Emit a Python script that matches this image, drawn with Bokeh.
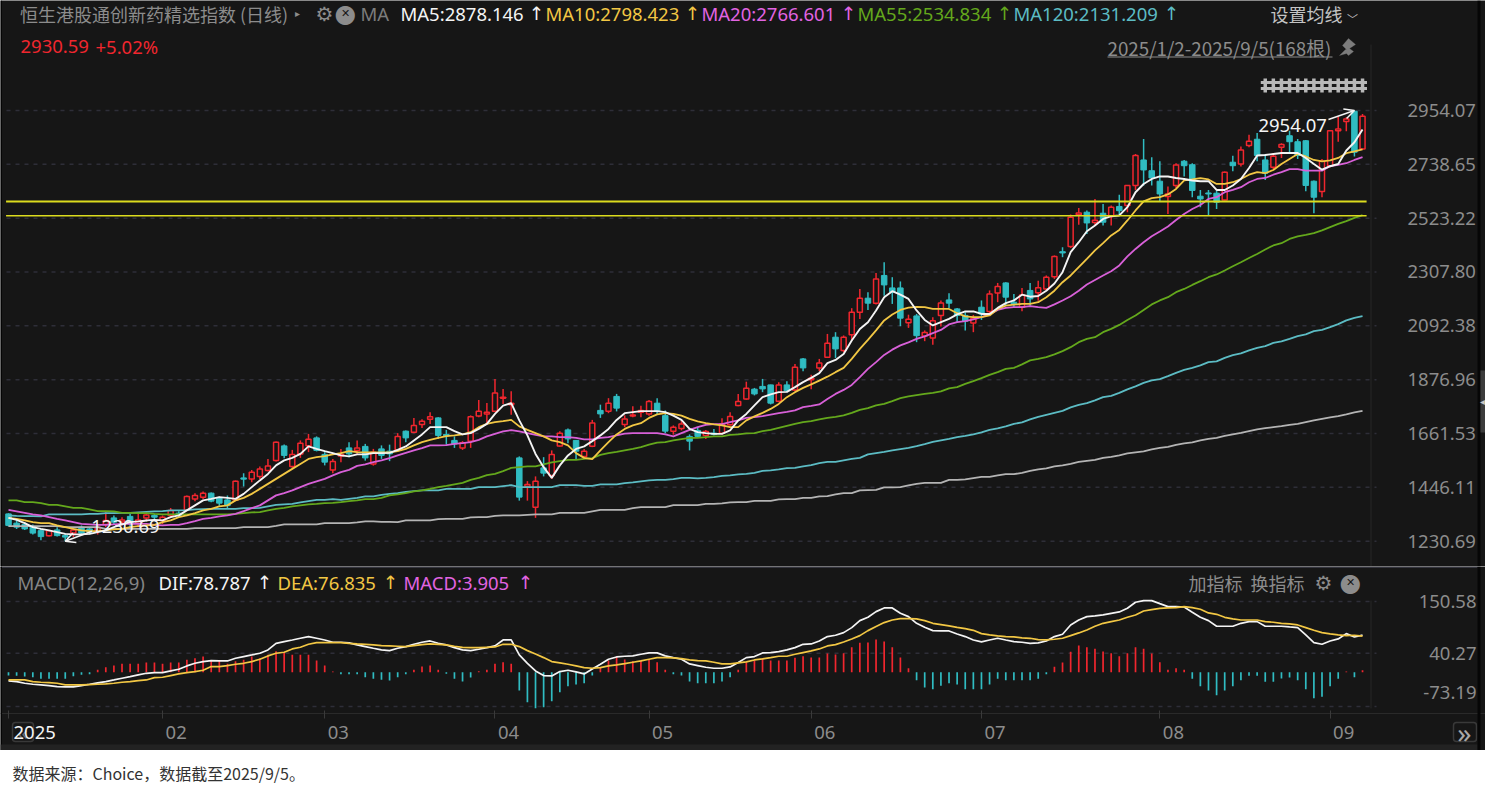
"""Daily candlestick chart of the HS Stock Connect innovative drug index with MACD."""
from bokeh.embed import file_html
from bokeh.layouts import column
from bokeh.models import Arrow, BoxAnnotation, FixedTicker, Label, NumeralTickFormatter, OpenHead, PolyAnnotation, Range1d
from bokeh.plotting import figure
from bokeh.resources import INLINE

BG = "#161616"
RED = "#f0262e"
TEAL = "#30bcc2"
GRID = "#2e2e38"
GRAY = "#8c8c8c"
WHITE = "#f4f4f4"
YELLOW = "#f2c744"
MAGENTA = "#d860d8"
GREEN = "#64a81c"
CYAN = "#5cbcc4"
SILVER = "#b4b4b4"
CN = "Noto Sans CJK SC"
NUM = "Noto Sans"

opens = [
    1340, 1303, 1298, 1287, 1273, 1252, 1276, 1253, 1263, 1287,
    1280, 1274, 1298, 1324, 1308, 1330, 1303, 1324, 1334, 1314,
    1334, 1343, 1356, 1400, 1407, 1423, 1404, 1396, 1396, 1484,
    1480, 1490, 1514, 1554, 1612, 1530, 1580, 1613, 1644, 1578,
    1516, 1572, 1604, 1594, 1610, 1540, 1600, 1591, 1596, 1671,
    1667, 1698, 1719, 1724, 1658, 1634, 1604, 1631, 1732, 1740,
    1751, 1803, 1777, 1564, 1450, 1367, 1524, 1494, 1612, 1676,
    1634, 1570, 1611, 1754, 1751, 1810, 1698, 1732, 1747, 1740,
    1783, 1733, 1671, 1682, 1650, 1674, 1654, 1663, 1663, 1697,
    1774, 1800, 1839, 1850, 1856, 1791, 1856, 1836, 1960, 1877,
    1924, 1967, 2047, 1994, 2057, 2147, 2203, 2183, 2294, 2244,
    2244, 2105, 2132, 2052, 2044, 2134, 2196, 2160, 2134, 2104,
    2167, 2150, 2224, 2264, 2187, 2167, 2234, 2225, 2240, 2289,
    2389, 2410, 2537, 2547, 2506, 2543, 2530, 2570, 2574, 2654,
    2756, 2713, 2671, 2610, 2654, 2751, 2737, 2611, 2624, 2623,
    2596, 2747, 2740, 2814, 2839, 2756, 2727, 2807, 2853, 2829,
    2833, 2671, 2630, 2733, 2873, 2910, 2951, 2800,
]
closes = [
    1294, 1287, 1280, 1263, 1249, 1273, 1253, 1247, 1276, 1263,
    1267, 1287, 1314, 1307, 1316, 1300, 1316, 1336, 1327, 1327,
    1354, 1334, 1410, 1414, 1423, 1391, 1383, 1373, 1471, 1479,
    1507, 1520, 1532, 1627, 1574, 1578, 1623, 1639, 1594, 1547,
    1550, 1578, 1580, 1604, 1564, 1587, 1574, 1580, 1650, 1644,
    1694, 1711, 1729, 1654, 1652, 1620, 1625, 1729, 1751, 1747,
    1824, 1807, 1783, 1407, 1458, 1471, 1503, 1578, 1663, 1640,
    1591, 1591, 1704, 1740, 1783, 1763, 1720, 1736, 1754, 1790,
    1750, 1671, 1687, 1700, 1631, 1650, 1670, 1658, 1700, 1730,
    1790, 1843, 1820, 1840, 1783, 1856, 1833, 1927, 1924, 1883,
    1944, 2023, 2000, 2047, 2147, 2203, 2183, 2280, 2256, 2227,
    2123, 2119, 2053, 2066, 2113, 2184, 2183, 2134, 2111, 2123,
    2140, 2220, 2250, 2207, 2180, 2216, 2200, 2245, 2287, 2370,
    2384, 2527, 2544, 2504, 2515, 2507, 2567, 2553, 2654, 2774,
    2716, 2684, 2620, 2620, 2736, 2733, 2634, 2600, 2620, 2587,
    2707, 2733, 2796, 2831, 2774, 2703, 2771, 2818, 2829, 2774,
    2654, 2607, 2751, 2873, 2880, 2920, 2787, 2930.59,
]
highs = [
    1343, 1314, 1307, 1298, 1280, 1276, 1287, 1260, 1287, 1294,
    1287, 1294, 1347, 1334, 1327, 1340, 1340, 1347, 1340, 1334,
    1364, 1351, 1414, 1423, 1430, 1426, 1410, 1414, 1474, 1503,
    1516, 1530, 1560, 1630, 1618, 1596, 1634, 1660, 1650, 1587,
    1560, 1600, 1627, 1634, 1620, 1600, 1614, 1617, 1663, 1674,
    1724, 1719, 1747, 1727, 1676, 1650, 1631, 1734, 1796, 1784,
    1880, 1840, 1831, 1570, 1471, 1490, 1567, 1594, 1671, 1682,
    1636, 1600, 1716, 1777, 1803, 1820, 1734, 1771, 1773, 1796,
    1803, 1754, 1694, 1711, 1658, 1687, 1676, 1680, 1723, 1747,
    1820, 1869, 1844, 1880, 1857, 1867, 1871, 1940, 1964, 1897,
    1960, 2060, 2067, 2054, 2163, 2240, 2227, 2304, 2347, 2287,
    2270, 2137, 2140, 2074, 2127, 2194, 2223, 2164, 2147, 2136,
    2194, 2234, 2264, 2267, 2220, 2244, 2264, 2273, 2294, 2374,
    2407, 2538, 2564, 2554, 2600, 2580, 2574, 2617, 2656, 2780,
    2840, 2767, 2751, 2650, 2743, 2756, 2743, 2636, 2636, 2634,
    2710, 2773, 2810, 2857, 2864, 2780, 2777, 2823, 2873, 2840,
    2836, 2674, 2760, 2876, 2930, 2927, 2954.07, 2940,
]
lows = [
    1290, 1280, 1276, 1257, 1234, 1249, 1249, 1230.69, 1247, 1253,
    1257, 1257, 1287, 1300, 1294, 1287, 1287, 1314, 1314, 1300,
    1324, 1327, 1353, 1391, 1400, 1387, 1373, 1360, 1391, 1450,
    1467, 1480, 1511, 1550, 1563, 1524, 1564, 1587, 1590, 1534,
    1503, 1547, 1567, 1580, 1553, 1533, 1560, 1551, 1591, 1627,
    1663, 1684, 1700, 1640, 1617, 1604, 1596, 1604, 1727, 1700,
    1747, 1780, 1737, 1393, 1393, 1324, 1490, 1480, 1610, 1623,
    1556, 1564, 1607, 1724, 1743, 1750, 1687, 1727, 1727, 1733,
    1740, 1663, 1657, 1674, 1594, 1647, 1640, 1654, 1657, 1694,
    1771, 1797, 1814, 1827, 1778, 1787, 1827, 1831, 1911, 1839,
    1911, 1964, 1964, 1987, 2033, 2120, 2156, 2178, 2213, 2180,
    2091, 2084, 2027, 2031, 2017, 2090, 2164, 2107, 2074, 2067,
    2116, 2143, 2187, 2173, 2167, 2151, 2173, 2193, 2233, 2280,
    2367, 2404, 2497, 2460, 2494, 2494, 2494, 2537, 2547, 2636,
    2654, 2654, 2591, 2540, 2644, 2690, 2607, 2567, 2534, 2560,
    2594, 2711, 2730, 2807, 2751, 2676, 2720, 2764, 2787, 2760,
    2631, 2543, 2607, 2727, 2829, 2871, 2770, 2797,
]

ma5 = [
    1324, 1316, 1303, 1287, 1280, 1274, 1267, 1260, 1258, 1258,
    1260, 1267, 1274, 1287, 1298, 1307, 1310, 1314, 1316, 1314,
    1327, 1334, 1354, 1374, 1394, 1400, 1407, 1404, 1400, 1420,
    1447, 1474, 1500, 1534, 1554, 1564, 1580, 1610, 1600, 1591,
    1583, 1574, 1570,
    1578, 1578, 1583, 1583, 1584, 1596, 1610, 1634, 1658, 1687,
    1687, 1687, 1671, 1658, 1663, 1680, 1700, 1740, 1773, 1783,
    1714, 1654, 1580, 1527, 1484, 1534, 1574, 1600, 1610, 1631,
    1654, 1680, 1716, 1743, 1747, 1751, 1751, 1751, 1747, 1733,
    1716, 1680,
    1667, 1663, 1660, 1660, 1674, 1714, 1740, 1774, 1807, 1818,
    1827, 1828, 1847, 1867, 1884, 1903, 1943, 1956, 1980, 2034,
    2080, 2107, 2154, 2207, 2231, 2217, 2200, 2154, 2116, 2094,
    2107, 2120, 2138, 2150, 2150, 2140, 2140, 2164, 2183, 2194,
    2217, 2209,
    2212, 2233, 2262, 2307, 2387, 2427, 2471, 2494, 2520, 2531,
    2534, 2567, 2627, 2660, 2680, 2690, 2690, 2684, 2680, 2674,
    2671, 2671, 2636, 2636, 2654, 2680, 2724, 2774, 2776, 2780,
    2784, 2784, 2784, 2764, 2740, 2717, 2731, 2740, 2794, 2827,
    2878,
]
ma10 = [
    1324, 1320, 1314, 1307, 1303, 1303, 1294, 1287, 1280, 1274,
    1271, 1271, 1274, 1278, 1280, 1287, 1291, 1294, 1296, 1307,
    1314, 1327, 1334, 1343, 1354, 1360, 1370, 1374, 1394, 1404,
    1420, 1440, 1460, 1480, 1500, 1520, 1540, 1560, 1567, 1571,
    1578, 1583, 1591,
    1587, 1586, 1586, 1586, 1586, 1591, 1600, 1614, 1627, 1636,
    1644, 1651, 1654, 1658, 1667, 1687, 1700, 1707, 1711, 1716,
    1690, 1676, 1663, 1650, 1634, 1627, 1614, 1583, 1564, 1559,
    1594, 1627, 1658, 1680, 1694, 1703, 1724, 1738, 1743, 1740,
    1733, 1720,
    1710, 1703, 1698, 1694, 1687, 1687, 1714, 1730, 1744, 1760,
    1780, 1807, 1827, 1844, 1858, 1873, 1889, 1907, 1924, 1960,
    2000, 2036, 2074, 2114, 2138, 2156, 2165, 2168, 2167, 2160,
    2160, 2160, 2143, 2130, 2127, 2127, 2134, 2160, 2173, 2177,
    2180, 2180,
    2187, 2207, 2233, 2267, 2294, 2327, 2360, 2394, 2423, 2454,
    2476, 2514, 2554, 2590, 2603, 2607, 2618, 2640, 2674, 2678,
    2683, 2678, 2660, 2660, 2667, 2680, 2697, 2707, 2703, 2716,
    2740, 2760, 2780, 2770, 2756, 2750, 2754, 2764, 2783, 2790,
    2798,
]
ma20 = [
    1356, 1350, 1344, 1338, 1334, 1327, 1320, 1314, 1307, 1300,
    1298, 1296, 1296, 1298, 1300, 1300, 1300, 1300, 1296, 1294,
    1296, 1296, 1303, 1311, 1320, 1324, 1330, 1334, 1340, 1351,
    1363, 1374, 1394, 1414, 1423, 1434, 1447, 1460, 1470, 1480,
    1494, 1507, 1516,
    1532, 1538, 1547, 1554, 1563, 1574, 1584, 1594, 1603, 1614,
    1614, 1615, 1620, 1623, 1627, 1636, 1650, 1660, 1670, 1675,
    1670, 1663, 1656, 1650, 1650, 1647, 1647, 1644, 1638, 1638,
    1644, 1647, 1654, 1661, 1663, 1663, 1663, 1663, 1658, 1650,
    1663, 1676,
    1687, 1696, 1699, 1699, 1707, 1714, 1724, 1727, 1731, 1737,
    1743, 1748, 1754, 1767, 1772, 1778, 1800, 1820, 1836, 1856,
    1887, 1920, 1947, 1976, 1997, 2014, 2026, 2040, 2050, 2063,
    2076, 2098, 2107, 2111, 2118, 2127, 2138, 2156, 2164, 2167,
    2167, 2171,
    2167, 2164, 2178, 2194, 2211, 2233, 2258, 2276, 2294, 2311,
    2334, 2370, 2400, 2427, 2451, 2470, 2490, 2516, 2540, 2560,
    2576, 2600, 2607, 2627, 2636, 2647, 2667, 2680, 2684, 2697,
    2707, 2719, 2719, 2713, 2713, 2713, 2731, 2736, 2743, 2756,
    2767,
]
ma55 = [
    1394, 1394, 1387, 1387, 1383, 1376, 1376, 1370, 1364, 1364,
    1358, 1351, 1351, 1350, 1344, 1344, 1343, 1343, 1340, 1338,
    1338, 1338, 1338, 1338, 1338, 1338, 1338, 1338, 1340, 1343,
    1346, 1347, 1354, 1360, 1364, 1370, 1374, 1378, 1380, 1383,
    1384, 1387, 1391,
    1394, 1399, 1399, 1404, 1414, 1418, 1423, 1430, 1434, 1440,
    1447, 1452, 1458, 1464, 1476, 1484, 1495, 1500, 1511, 1524,
    1527, 1530, 1530, 1538, 1546, 1551, 1556, 1556, 1560, 1563,
    1576, 1583, 1588, 1594, 1600, 1607, 1617, 1625, 1627, 1634,
    1639, 1644,
    1644, 1647, 1650, 1650, 1656, 1658, 1662, 1663, 1671, 1676,
    1684, 1692, 1700, 1707, 1711, 1718, 1724, 1728, 1734, 1744,
    1756, 1763, 1774, 1780, 1791, 1803, 1810, 1815, 1820, 1824,
    1830, 1842, 1847, 1860, 1871, 1883, 1896, 1907, 1920, 1924,
    1938, 1954,
    1960, 1967, 1978, 1991, 2007, 2027, 2040, 2047, 2067, 2080,
    2096, 2116, 2134, 2156, 2178, 2194, 2207, 2227, 2240, 2256,
    2271, 2287, 2298, 2314, 2331, 2347, 2364, 2380, 2398, 2414,
    2423, 2440, 2450, 2456, 2463, 2474, 2487, 2500, 2511, 2524,
    2535,
]
ma120 = [
    1334, 1332, 1331, 1331, 1330, 1338, 1338, 1338, 1338, 1338,
    1340, 1340, 1343, 1343, 1344, 1344, 1346, 1348, 1350, 1351,
    1354, 1354, 1355, 1358, 1359, 1360, 1360, 1360, 1360, 1363,
    1363, 1364, 1370, 1376, 1378, 1380, 1386, 1391, 1396, 1396,
    1399,
    1396, 1400, 1404, 1410, 1410, 1416, 1420, 1423, 1428, 1431,
    1434, 1434, 1434, 1440, 1440, 1440, 1440, 1447, 1447, 1447,
    1451, 1455, 1447, 1447, 1447, 1447, 1447, 1455, 1455, 1455,
    1452, 1452, 1458, 1458, 1458, 1463, 1466, 1470, 1474, 1476,
    1476, 1479, 1484, 1484,
    1482, 1484, 1487, 1492, 1494, 1498, 1500, 1504, 1512, 1514,
    1518, 1523, 1524, 1530, 1535, 1543, 1548, 1548, 1554, 1560,
    1564, 1578, 1583, 1588, 1594, 1599, 1604, 1611, 1619, 1628,
    1634, 1640, 1647, 1652, 1658, 1666, 1676, 1682, 1690, 1700,
    1706, 1718,
    1728, 1736, 1744, 1752, 1766, 1776, 1783, 1794, 1807, 1812,
    1824, 1838, 1850, 1864, 1874, 1879, 1891, 1904, 1916, 1924,
    1934, 1947, 1950, 1964, 1975, 1982, 1994, 2004, 2011, 2024,
    2030, 2040, 2051, 2058, 2071, 2076, 2087, 2099, 2114, 2124,
    2131,
]
ma250 = [
    1291, 1291, 1291, 1291, 1291, 1291, 1291, 1287, 1287, 1287,
    1287, 1287, 1280, 1280, 1280, 1280, 1280, 1280, 1280, 1280,
    1280, 1280, 1280, 1283, 1283, 1283, 1283, 1283, 1283, 1287,
    1287, 1287, 1287, 1292, 1298, 1298, 1298, 1298, 1298, 1303,
    1303,
    1303, 1303, 1306, 1310, 1310, 1308, 1308, 1307, 1314, 1314,
    1314, 1314, 1319, 1320, 1320, 1320, 1326, 1327, 1327, 1332,
    1334, 1334, 1334, 1336, 1338, 1338, 1338, 1344, 1344, 1344,
    1344, 1350, 1356, 1356, 1356, 1356, 1363, 1367, 1367, 1367,
    1367, 1375, 1375, 1375,
    1375, 1380, 1380, 1382, 1386, 1387, 1387, 1392, 1392, 1392,
    1398, 1399, 1399, 1404, 1404, 1410, 1411, 1418, 1423, 1423,
    1434, 1435, 1436, 1446, 1446, 1447, 1454, 1460, 1464, 1464,
    1464, 1476, 1476, 1478, 1483, 1488, 1488, 1494, 1499, 1499,
    1504, 1512,
    1518, 1522, 1530, 1534, 1540, 1548, 1552, 1556, 1564, 1568,
    1574, 1582, 1586, 1590, 1598, 1604, 1608, 1616, 1622, 1626,
    1634, 1640, 1644, 1652, 1658, 1664,
    1671, 1678, 1683, 1687, 1691, 1696, 1700, 1707, 1714, 1720,
    1726, 1731, 1738, 1746, 1752,
]

dif = [
    -18.7, -20.1, -23.7, -25.8, -27.2, -28.6, -30.8, -31.5, -31.5, -28.6,
    -25.8, -22.9, -20.1, -16.6, -13, -9.5, -5.9, -2.4, -0.9, -0.9,
    2.6, 6.2, 13.3, 18.9, 22.5, 24.6, 23.9, 23.9, 29.6, 33.2,
    36.7, 40.3, 47.4, 61.5, 65.1, 68.6, 72.2, 75.8, 72.2, 68.6,
    63.7, 63.7, 62.3, 58, 54.5, 50.9, 47.4, 45.9, 50.9, 54.5,
    59.4, 63.7, 66.5, 61.5, 58, 52.3, 47.4, 45.9, 48.8, 52.3,
    55.9, 68.6, 68.6, 36.7, 18.9, 2.6, -7.3, -8, 1.2, 4,
    0.5, -3.8, 6.9, 16.8, 27.5, 32.4, 33.9, 34.6, 38.1, 41,
    41, 34.6, 31, 27.5, 17.5, 14, 10.4, 8.3, 8.3, 11.1,
    20.4, 31, 33.2, 41, 41.7, 43.8, 47.4, 52.3, 59.4, 60.1,
    66.5, 75.8, 78.6, 84.3, 94.9, 109.8, 116.9, 129, 136.8, 136.8,
    125.4, 118.4, 104.1, 95.6, 88.5, 87.8, 87.8, 81.4, 75.8, 68.6,
    64.4, 68.6, 72.2, 68.6, 65.1, 63.7, 61.5, 62.3, 66.5, 75.8,
    80.7, 100.6, 111.3, 118.4, 119.8, 121.9, 125.4, 128.3, 136.1, 148.9,
    152.4, 152.4, 146, 139.7, 139.7, 138.9, 127.6, 116.9, 109.8, 97.8,
    97.8, 97.8, 104.1, 107.7, 107.7, 97.8, 97.8, 97.8, 96.3, 94.9,
    79.3, 63, 59.4, 66.5, 70.8, 82.1, 75, 78.8,
]
dea = [
    -16.6, -16.6, -16.6, -20.1, -21.5, -22.2, -23.7, -27.2, -27.2, -27.2,
    -26.5, -25.8, -25.1, -23.7, -21.5, -20.1, -18, -16.6, -11.6, -10.9,
    -7.3, -3.8, -0.9, 1.2, 4, 11.9, 11.9, 14, 16.8, 18.9,
    22.5, 27.5, 34.6, 40.3, 42.4, 49.5, 53, 59.4, 63, 63,
    63, 63, 61.5, 60.1, 59.4, 58, 56.6, 55.9, 55.2, 54.5,
    56.6, 58.7, 60.1, 59.4, 58, 55.2, 53, 52.3, 52.3, 53,
    53.7, 59.4, 59.4, 54.5, 45.9, 38.8, 31, 22.5, 19.7, 16.8,
    13.3, 9.7, 8.3, 9.7, 13.3, 15.4, 18.2, 21.1, 23.9, 27.5,
    31, 31, 30.3, 28.9, 26, 24.6, 23.9, 21.1, 17.5, 17.5,
    19.7, 21.8, 26, 28.2, 31, 33.9, 33.9, 38.1, 41.7, 45.2,
    49.5, 55.9, 58.7, 64.4, 70.8, 77.9, 88.5, 97.1, 105.6, 111.2,
    114.1, 114.1, 113.4, 109.8, 104.1, 101.3, 98.5, 95.6, 92.8, 89.2,
    82.1, 79.3, 77.2, 75.8, 75, 72.9, 72.2, 69.4, 68.6, 70.1,
    72.2, 77.9, 83.6, 89.9, 97.8, 104.1, 107.7, 111.2, 116.9, 121.9,
    130.4, 133.3, 136.1, 136.8, 137.5, 139.7, 137.5, 134, 126.2, 123.3,
    116.9, 113.4, 111.2, 111.2, 111.2, 107.7, 106.3, 104.1, 102.7, 100.6,
    94.9, 89.2, 84.3, 81.4, 79.3, 77.9, 78.6, 76.8,
]
macd_hist = [
    -7.1, -7.8, -9.2, -10.7, -14.2, -14.2, -14.2, -14.2, -8.5, -5.7,
    -4.3, 5, 10.7, 14.2, 17.8, 17.8, 17.8, 20.6, 20.6, 17.8,
    20.6, 20.6, 26.3, 29.8, 33.4, 24.9, 24.9, 17.8, 23.4, 26.3,
    33.4, 29.8, 36.9, 44.7, 42.6, 36.9, 36.9, 36.9, 24.9, 14.2,
    1.4, -4.3, -4.3, -4.3, -10.7, -14.2, -16.3, -17.8, -10.7, -4.3,
    5, 12.1, 14.2, 5, -3.6, -14.2, -19.9, -11.4, 2.1, 5,
    17.8, 21.3, 17.8, -39, -63.9, -76.7, -74.6, -61.8, -42.6, -29.8,
    -26.3, -23.4, -7.1, 10.7, 24.9, 33.4, 27, 23.4, 24.9, 27,
    21.3, 5, -4.3, -7.1, -19.9, -23.4, -23.4, -23.4, -19.9, -10.7,
    5, 21.3, 24.9, 29.8, 24.9, 24.9, 24.9, 30.5, 34, 31.2,
    31.2, 39.8, 37.6, 40.5, 53.3, 62.5, 63.2, 69.6, 65.3, 53.3,
    31.2, 8.5, -17, -32.7, -36.2, -29.1, -23.4, -26.3, -36.2, -36.2,
    -36.2, -26.3, -14.2, -17, -17, -17, -17, -14.2, -4.3, 11.4,
    20.6, 43.3, 56.8, 53.3, 49.7, 44, 40.5, 34, 40.5, 53.3,
    49.7, 39.8, 21.3, 5, 8.5, 5, -14.2, -29.8, -39, -49,
    -39, -29.8, -17, -7.8, -7.8, -20.6, -20.6, -13.5, -11.4, -17,
    -36.2, -55.4, -52.5, -29.8, -14.2, 1.4, -10.7, 3.9,
]

price_ticks = [1230.69, 1446.11, 1661.53, 1876.96, 2092.38, 2307.80, 2523.22, 2738.65, 2954.07]
macd_ticks = [-73.19, 40.27, 150.58]
month_starts = [0, 19, 39, 60, 79, 99, 120, 142, 163]
month_labels = ["2025", "02", "03", "04", "05", "06", "07", "08", "09"]
support_levels = [2590, 2532.6]
support_widths = [2, 1.5]
signal_days = [155, 156, 157, 158, 159, 160, 161, 162, 163, 164, 165, 166, 167]
signal_level = 3054

for series in (opens, closes, highs, lows, ma5, ma10, ma20, ma55, ma120, ma250, dif, dea, macd_hist):
    assert len(series) == 168, len(series)

days = list(range(len(closes)))
up = [i for i in days if closes[i] >= opens[i]]
down = [i for i in days if closes[i] < opens[i]]

WIDTH = 1485
PX_PER_DAY = 8.108
x_min = -8 / PX_PER_DAY
x_max = (WIDTH - 8) / PX_PER_DAY
grid_left = -2 / PX_PER_DAY
grid_right = (1376 - 8) / PX_PER_DAY
KLINE_H = 566
MACD_H = 184
FOOT_H = 47


def text(fig, x, y, label, color=GRAY, size=18.5, font=NUM, align="left", bold=False, **kw):
    """Put a label at a position given in pixels from the frame's bottom left."""
    fig.add_layout(Label(
        x=x, y=y, x_units="screen", y_units="screen", text=label, text_color=color,
        text_font_size=f"{size}px", text_font=font, text_align=align,
        text_baseline="middle", text_font_style="bold" if bold else "normal", **kw,
    ))


def box(fig, left, right, top, bottom, color, **kw):
    fig.add_layout(BoxAnnotation(
        left=left, right=right, top=top, bottom=bottom, left_units="screen", right_units="screen",
        top_units="screen", bottom_units="screen", fill_color=color, fill_alpha=1,
        line_color=None, **kw,
    ))


def icon_frame(fig, left, right, top, bottom):
    fig.add_layout(BoxAnnotation(
        left=left, right=right, top=top, bottom=bottom, left_units="screen", right_units="screen",
        top_units="screen", bottom_units="screen", fill_alpha=0, line_color="#8a8a8a",
        line_width=1.5, border_radius=3,
    ))


def settings_icons(fig, gear_x, close_x, y):
    text(fig, gear_x, y, "\u2699", size=20, font="DejaVu Sans", align="center")
    text(fig, close_x, y, "\u25cf", size=25, font="DejaVu Sans", align="center")
    text(fig, close_x, y, "\u2715", color=BG, size=11, font="DejaVu Sans", align="center", bold=True)


# ---- candles and moving averages
kline = figure(
    width=WIDTH, height=KLINE_H, output_backend="svg", toolbar_location=None,
    x_range=Range1d(x_min, x_max),
    y_range=Range1d(1230.69 - 4.001 * 25.3, 1230.69 + 4.001 * 540.7),
    x_axis_location=None, y_axis_location="right",
    background_fill_color=BG, border_fill_color=BG, outline_line_color=None, min_border=0,
)
kline.grid.visible = False
kline.yaxis.fixed_location = grid_right
kline.yaxis.ticker = FixedTicker(ticks=price_ticks)
kline.yaxis.formatter = NumeralTickFormatter(format="0.00")
kline.yaxis.axis_line_color = None
kline.yaxis.major_tick_line_color = None
kline.yaxis.minor_tick_line_color = None
kline.yaxis.major_label_standoff = 25
kline.yaxis.major_label_text_color = GRAY
kline.yaxis.major_label_text_font = NUM
kline.yaxis.major_label_text_font_size = "18.5px"

kline.segment(grid_left, price_ticks, grid_right, price_ticks, color=GRID, line_dash="4 5", line_width=1.5)
kline.segment([days[i] for i in up], [highs[i] for i in up], [days[i] for i in up], [lows[i] for i in up],
              color=RED, line_width=1.5)
kline.segment([days[i] for i in down], [highs[i] for i in down], [days[i] for i in down], [lows[i] for i in down],
              color=TEAL, line_width=1.5)
kline.vbar([days[i] for i in up], 0.62, [opens[i] for i in up], [closes[i] for i in up],
           fill_color=BG, line_color=RED, line_width=1.5)
kline.vbar([days[i] for i in down], 0.68, [closes[i] for i in down], [opens[i] for i in down],
           fill_color=TEAL, line_color=TEAL, line_width=1)

kline.line(days, ma250, color=SILVER, line_width=1.8)
kline.line(days, ma120, color=CYAN, line_width=1.8)
kline.line(days, ma55, color=GREEN, line_width=1.8)
kline.line(days, ma20, color=MAGENTA, line_width=1.8)
kline.line(days, ma10, color=YELLOW, line_width=1.8)
kline.line(days, ma5, color=WHITE, line_width=1.9)

for level, lw in zip(support_levels, support_widths):
    kline.segment(-0.3, level, 167.5, level, color="#dcdc1e", line_width=lw)

kline.segment(signal_days, signal_level + 28, signal_days, signal_level - 28, color="#b8b8b8", line_width=3.5)
kline.segment(signal_days[0] - 0.55, signal_level + 12, signal_days[-1] + 0.55, signal_level + 12,
              color="#b8b8b8", line_width=3)
kline.segment(signal_days[0] - 0.55, signal_level - 12, signal_days[-1] + 0.55, signal_level - 12,
              color="#b8b8b8", line_width=3)

low_day = lows.index(min(lows))
high_day = highs.index(max(highs))
kline.add_layout(Arrow(
    end=OpenHead(size=10, line_color=WHITE, line_width=1.5), line_color=WHITE, line_width=1.5,
    x_start=low_day + 3.3, y_start=min(lows) + 40, x_end=low_day, y_end=min(lows),
))
kline.add_layout(Arrow(
    end=OpenHead(size=10, line_color=WHITE, line_width=1.5), line_color=WHITE, line_width=1.5,
    x_start=high_day - 3.2, y_start=max(highs) - 36, x_end=high_day, y_end=max(highs),
))
kline.add_layout(Label(x=low_day, y=min(lows), x_offset=26, y_offset=15, text=f"{min(lows):.2f}",
                       text_color=WHITE, text_font=NUM, text_font_size="18.5px", text_baseline="middle"))
kline.add_layout(Label(x=high_day, y=max(highs), x_offset=-96, y_offset=-15, text=f"{max(highs):.2f}",
                       text_color=WHITE, text_font=NUM, text_font_size="18.5px", text_baseline="middle"))

# header, y given from the bottom of the frame
HEAD_Y = KLINE_H - 13
text(kline, 19.5, HEAD_Y, "恒生港股通创新药精选指数 (日线)", font=CN, size=18)
text(kline, 297, HEAD_Y, "\u25b8", size=10, font="DejaVu Sans", align="center")
settings_icons(kline, 324, 345, HEAD_Y)
text(kline, 360, HEAD_Y, "MA", color="#7c7c7c")
for x, arrow_x, label, color in [
    (400, 536, "MA5:2878.146", WHITE),
    (545, 692, "MA10:2798.423", YELLOW),
    (701, 848, "MA20:2766.601", "#e264e2"),
    (857, 1004, "MA55:2534.834", GREEN),
    (1013, 1171, "MA120:2131.209", CYAN),
]:
    text(kline, x, HEAD_Y, label, color=color)
    text(kline, arrow_x, HEAD_Y, "\u2191", color=color, font="DejaVu Sans", align="center")
text(kline, 1270, HEAD_Y, "设置均线", color="#c4c4c4", font=CN, size=18)
text(kline, 1352, HEAD_Y - 5, "\ufe40", color="#c4c4c4", size=11, font=CN, align="center")
text(kline, 20, KLINE_H - 46, "2930.59", color=RED)
text(kline, 95, KLINE_H - 46, "+5.02%", color=RED)
text(kline, 1107, KLINE_H - 47, "2025/1/2-2025/9/5(168根)", font=CN, size=18.8)
box(kline, 1107, 1332, KLINE_H - 56, KLINE_H - 57, GRAY)
kline.add_layout(PolyAnnotation(
    xs=[1339, 1345, 1346, 1342, 1348, 1355, 1349, 1353, 1348, 1346],
    ys=[KLINE_H - 55, KLINE_H - 49, KLINE_H - 49, KLINE_H - 45, KLINE_H - 38, KLINE_H - 44,
        KLINE_H - 48, KLINE_H - 51, KLINE_H - 55, KLINE_H - 53],
    xs_units="screen", ys_units="screen", fill_color="#7c7c7c", fill_alpha=1, line_color="#7c7c7c",
))
box(kline, 1370, 1371, KLINE_H - 44, 0, "#262626")
box(kline, 0, 1.5, KLINE_H, 0, "#050505")
box(kline, 1477, 1480, KLINE_H, 0, "#060606")
box(kline, 1480, 1485, KLINE_H - 370, KLINE_H - 432, "#3c3c3c")
text(kline, 1482, KLINE_H - 401, "\u25c2", color="#c8c8c8", size=10, font="DejaVu Sans", align="center")

# ---- MACD panel, the frame fills the figure and the page's y = 750 is its bottom
macd_per_px = (150.58 + 73.19) / 105
macd = figure(
    width=WIDTH, height=MACD_H, output_backend="svg", toolbar_location=None,
    x_range=Range1d(x_min, x_max),
    y_range=Range1d(-73.19 - 44 * macd_per_px, 150.58 + 35 * macd_per_px),
    y_axis_location=None,
    background_fill_color=BG, border_fill_color=BG, outline_line_color=None, min_border=0,
)
macd.grid.visible = False
macd.xaxis.fixed_location = -73.19 - 7 * macd_per_px
macd.xaxis.ticker = FixedTicker(ticks=month_starts)
macd.xaxis.axis_line_color = "#2a2a2a"
macd.xaxis.major_tick_line_color = "#3a3a3a"
macd.xaxis.major_tick_in = 3
macd.xaxis.major_tick_out = 5
macd.xaxis.minor_tick_line_color = None
macd.xaxis.major_label_text_color = None

macd.segment(grid_left, macd_ticks, grid_right, macd_ticks, color=GRID, line_dash="4 5", line_width=1.5)
pos_hist = [i for i in days if macd_hist[i] >= 0]
neg_hist = [i for i in days if macd_hist[i] < 0]
macd.segment(pos_hist, 0, pos_hist, [macd_hist[i] for i in pos_hist], color=RED, line_width=1.7)
macd.segment(neg_hist, 0, neg_hist, [macd_hist[i] for i in neg_hist], color=TEAL, line_width=1.7)
macd.line(days, dif, color=WHITE, line_width=1.7)
macd.line(days, dea, color=YELLOW, line_width=1.7)

for tick in macd_ticks:
    # the lowest label sits above its grid line in the original
    macd.add_layout(Label(x=1476, y=tick, x_units="screen", y_offset=14 if tick == min(macd_ticks) else 0,
                          text=f"{tick:.2f}", text_color=GRAY, text_font=NUM, text_font_size="18.5px",
                          text_align="right", text_baseline="middle"))
MONTH_Y = 750 - 732
icon_frame(macd, 12, 33, 28, 9)
text(macd, 22, MONTH_Y, "\u00ab", color="#6a6a6a", size=20, align="center")
for day, name in zip(month_starts, month_labels):
    macd.add_layout(Label(x=day, y=MONTH_Y, y_units="screen", x_offset=5 if name == "2025" else 3,
                          text=name, text_color=WHITE if name == "2025" else GRAY, text_font=NUM,
                          text_font_size="18.5px", text_baseline="middle"))
icon_frame(macd, 1453, 1476, 28, 9)
text(macd, 1464, MONTH_Y + 1, "\u00bb", color="#a8a8a8", size=28, align="center")

MACD_HEAD = 750 - 582
text(macd, 17, MACD_HEAD, "MACD(12,26,9)", color="#858585")
for x, arrow_x, label, color in [
    (158, 264, "DIF:78.787", WHITE),
    (277, 390, "DEA:76.835", YELLOW),
    (403, 525, "MACD:3.905", "#e264e2"),
]:
    text(macd, x, MACD_HEAD, label, color=color)
    text(macd, arrow_x, MACD_HEAD, "\u2191", color=color, font="DejaVu Sans", align="center")
text(macd, 1188, MACD_HEAD, "加指标", font=CN, size=18)
text(macd, 1250, MACD_HEAD, "换指标", font=CN, size=18)
settings_icons(macd, 1323, 1350, MACD_HEAD)
box(macd, 0, 1477, MACD_H, MACD_H - 1.5, "#34343e")
box(macd, 1370, 1371, 150, 42, "#262626")
box(macd, 0, 1.5, MACD_H, 0, "#050505")
box(macd, 0, 1477, 6, 0, "#222222")
box(macd, 1477, 1480, MACD_H, 0, "#060606")

# ---- source note
foot = figure(
    width=WIDTH, height=FOOT_H, output_backend="svg", toolbar_location=None,
    x_axis_location=None, y_axis_location=None, x_range=Range1d(0, 1), y_range=Range1d(0, 1),
    background_fill_color="white", border_fill_color="white", outline_line_color=None,
    min_border=0,
)
foot.grid.visible = False
text(foot, 12, FOOT_H - 22, "数据来源：Choice，数据截至2025/9/5。", color="#333333", size=16, font=CN)

page = column(kline, macd, foot, spacing=0, margin=0)
open("out.html", "w").write(file_html(page, INLINE))
